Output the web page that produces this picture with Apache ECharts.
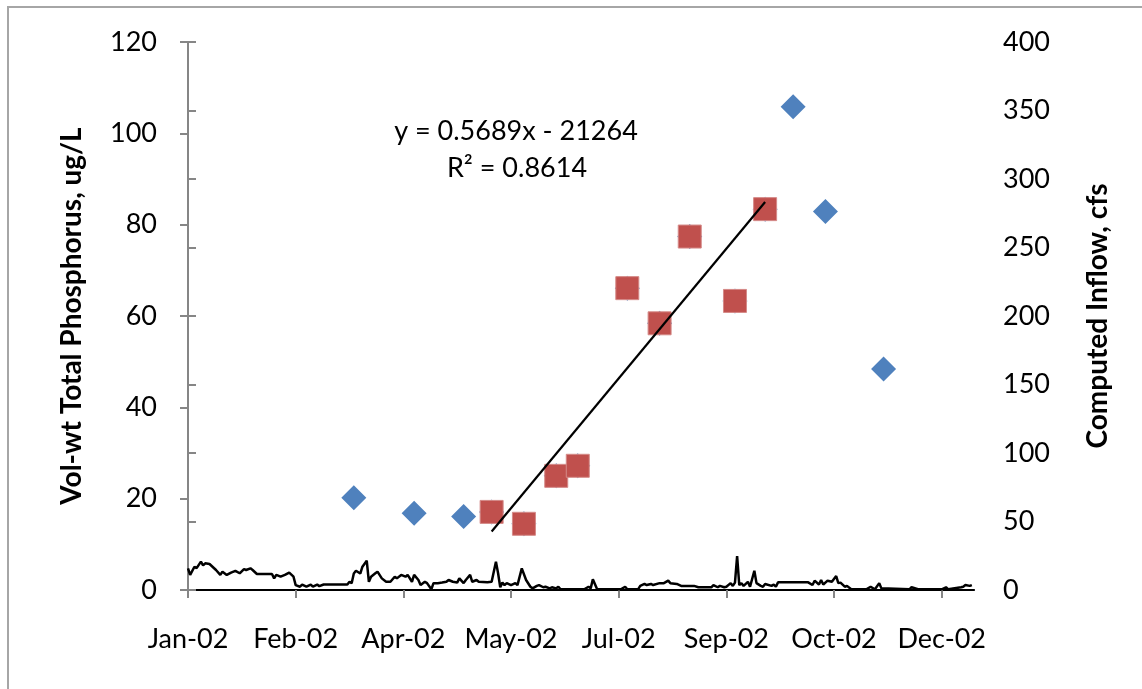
<!DOCTYPE html>
<html>
<head>
<meta charset="utf-8">
<script src="https://cdn.jsdelivr.net/npm/echarts@6/dist/echarts.min.js"></script>
<style>
  html, body { margin: 0; padding: 0; background: #ffffff; }
  #chart { width: 1142px; height: 689px; }
</style>
</head>
<body>
<div id="chart"></div>
<script>
// TP samples (vol-weighted, ug/L) - all sampling dates
const sampleDates = ['2002-03-19', '2002-04-16', '2002-05-09', '2002-05-22', '2002-06-06',
  '2002-06-21', '2002-07-01', '2002-07-24', '2002-08-08', '2002-08-22',
  '2002-09-12', '2002-09-26', '2002-10-09', '2002-10-24', '2002-11-20'];
const sampleTP = [20.2, 16.8, 16.1, 17.1, 14.5, 25.0, 27.2, 66.1, 58.4, 77.4, 63.3, 83.4, 105.8, 82.9, 48.4];

// samples used for the linear fit (red squares)
const fitDates = ['2002-05-22', '2002-06-06', '2002-06-21', '2002-07-01', '2002-07-24',
  '2002-08-08', '2002-08-22', '2002-09-12', '2002-09-26'];
const fitTP = [17.1, 14.5, 25.0, 27.2, 66.1, 58.4, 77.4, 63.3, 83.4];

// trendline label as printed on the chart
const trendText = ['y = 0.5689x - 21264', 'R\u00b2 = 0.8614'];

// computed inflow, cfs (day of year 2002, 0 = 1 Jan)
const inflowDay = [0, 1, 3, 4, 6, 7, 8, 10, 13, 15, 16, 18, 20, 22, 24, 26, 27, 29, 30, 32,
  39, 40, 41, 43, 45, 47, 49, 50, 52, 53, 55, 57, 58, 60, 61, 63, 74, 75, 76, 77,
  78, 80, 81, 83, 84, 85, 87, 88, 90, 92, 94, 96, 97, 99, 101, 102, 104, 105, 107, 108,
  110, 111, 113, 114, 116, 118, 120, 121, 123, 125, 126, 128, 129, 131, 132, 134, 135, 139, 141, 143,
  144, 145, 146, 147, 148, 150, 152, 153, 155, 157, 159, 160, 162, 163, 165, 166, 168, 169, 171, 172,
  173, 182, 184, 186, 187, 188, 190, 201, 203, 204, 209, 210, 212, 213, 215, 216, 219, 221, 223, 224,
  227, 229, 235, 237, 243, 244, 246, 247, 249, 250, 252, 253, 254, 255, 256, 257, 258, 260, 261, 263,
  264, 266, 267, 268, 271, 272, 273, 274, 288, 290, 291, 293, 294, 295, 297, 299, 301, 302, 303, 305,
  306, 308, 315, 317, 319, 321, 322, 335, 336, 339, 350, 352, 353, 359, 360, 361, 363, 364];
const inflowCfs = [15.8, 11, 17, 16, 20.7, 18, 19.5, 19, 14.6, 11, 13.4, 11, 12.7, 14, 12.2, 15.3, 14.6, 15.8, 14.6, 11.7,
  11.7, 8.5, 11, 9.7, 11, 12.7, 9.7, 3.6, 2.4, 4, 2.4, 4, 2.4, 4, 2.8, 4, 4, 6, 5, 12,
  14, 12, 17, 21.4, 6, 9.7, 12.2, 13.4, 8.5, 6, 6, 9.7, 8.5, 11, 9.7, 11, 6, 11, 7.3, 3.6,
  6, 5, 0.5, 5, 5, 5.4, 6, 7.3, 6, 5.4, 8.5, 5, 7.3, 11, 6, 7.3, 6, 5.6, 6, 20.7,
  12.2, 2, 5.4, 3.6, 5, 3.6, 5, 3.6, 15.8, 7.3, 2.4, 1.2, 3, 3.6, 2, 2.4, 1.2, 2, 1.2, 2.4,
  0.5, 0.5, 0.5, 2.4, 1.2, 7.8, 0.5, 0.5, 2.4, 0.5, 0.5, 3, 4.4, 3.6, 4.4, 3.6, 5, 5, 6.8, 5,
  4.4, 3, 3, 2, 2, 3.6, 2, 3, 2, 2.4, 5, 3, 5.4, 24.8, 3.6, 5, 3, 6, 2.4, 14,
  5, 3, 2.4, 4.4, 3, 4, 2.4, 5.6, 5.6, 3.6, 6.8, 4, 7.3, 4, 6.8, 6, 10.2, 5, 5.4, 2.4,
  3, 0.5, 0.5, 2.4, 0.5, 5, 1.2, 0.5, 2, 0.5, 0.5, 2, 0.5, 2, 2.4, 3.6, 3, 3.6];

const MONTHS = ['Jan', 'Feb', 'Mar', 'Apr', 'May', 'Jun', 'Jul', 'Aug', 'Sep', 'Oct', 'Nov', 'Dec'];
const YEAR0 = Date.UTC(2002, 0, 1);

// date string -> day offset from 1 Jan 2002
function dayOf(s) {
  const p = s.split('-').map(Number);
  return (Date.UTC(p[0], p[1] - 1, p[2]) - YEAR0) / 86400000;
}

// least squares fit over the red points
const fx = fitDates.map(dayOf);
const mx = fx.reduce((a, b) => a + b, 0) / fx.length;
const my = fitTP.reduce((a, b) => a + b, 0) / fitTP.length;
let sxy = 0, sxx = 0;
fx.forEach((x, i) => { sxy += (x - mx) * (fitTP[i] - my); sxx += (x - mx) * (x - mx); });
const slope = sxy / sxx;
const x0 = Math.min(...fx), x1 = Math.max(...fx);
const trendData = [[x0, my + slope * (x0 - mx)], [x1, my + slope * (x1 - mx)]];

const FONT = 'Lato';
const AXIS_GRAY = '#868686';

const chart = echarts.init(document.getElementById('chart'));

chart.setOption({
  animation: false,
  textStyle: { fontFamily: FONT, color: '#000' },
  grid: { left: 188, right: 168, top: 42, bottom: 99, containLabel: false },
  graphic: [
    {
      type: 'rect',
      shape: { x: 8, y: 7, width: 1200, height: 800 },
      style: { fill: 'none', stroke: '#a6a6a6', lineWidth: 2 },
      silent: true
    },
    {
      type: 'text', x: 516, y: 131, z: 100,
      style: { text: trendText[0], font: '27px ' + FONT, fill: '#000', textAlign: 'center', textVerticalAlign: 'middle' }
    },
    {
      type: 'text', x: 517, y: 168, z: 100,
      style: { text: trendText[1], font: '27px ' + FONT, fill: '#000', textAlign: 'center', textVerticalAlign: 'middle' }
    }
  ],
  xAxis: [
    {
      type: 'value', min: 0, max: 365, interval: 50, position: 'bottom',
      axisLine: { lineStyle: { color: AXIS_GRAY, width: 2 } },
      axisTick: { inside: false, length: 8, lineStyle: { color: AXIS_GRAY, width: 2 } },
      axisLabel: {
        fontSize: 27, color: '#000', margin: 36, showMaxLabel: false,
        formatter: v => {
          if (v > 360) return '';
          const d = new Date(YEAR0 + v * 86400000);
          return MONTHS[d.getUTCMonth()] + '-02';
        }
      },
      splitLine: { show: false }
    },
    {
      // top border line
      type: 'value', min: 0, max: 365, position: 'top',
      axisLine: { lineStyle: { color: '#000', width: 2 } },
      axisTick: { show: false }, axisLabel: { show: false }, splitLine: { show: false }
    }
  ],
  yAxis: [
    {
      type: 'value', min: 0, max: 120, interval: 20, position: 'left',
      name: 'Vol-wt Total Phosphorus, ug/L', nameLocation: 'middle', nameRotate: 90, nameGap: 102,
      nameTextStyle: { fontSize: 28, fontWeight: 'bold', color: '#000' },
      axisLine: { show: true, lineStyle: { color: AXIS_GRAY, width: 2 } },
      axisTick: { show: true, length: 8, lineStyle: { color: AXIS_GRAY, width: 2 } },
      axisLabel: { fontSize: 27, color: '#000', margin: 31 },
      splitLine: { show: false }
    },
    {
      type: 'value', min: 0, max: 400, interval: 50, position: 'right',
      name: 'Computed Inflow, cfs', nameLocation: 'middle', nameRotate: 90, nameGap: 110,
      nameTextStyle: { fontSize: 28, fontWeight: 'bold', color: '#000' },
      axisLine: { show: true, lineStyle: { color: AXIS_GRAY, width: 2 } },
      axisTick: { show: true, length: 8, lineStyle: { color: AXIS_GRAY, width: 2 } },
      axisLabel: { fontSize: 27, color: '#000', margin: 29 },
      splitLine: { show: false }
    }
  ],
  series: [
    {
      name: 'Inflow', type: 'line', xAxisIndex: 0, yAxisIndex: 1, z: 1,
      data: inflowDay.map((d, i) => [d, inflowCfs[i]]),
      showSymbol: false, lineStyle: { color: '#000', width: 2.5 }
    },
    {
      name: 'TP all', type: 'scatter', xAxisIndex: 0, yAxisIndex: 0, z: 2,
      data: sampleDates.map((d, i) => [dayOf(d), sampleTP[i]]),
      symbol: 'diamond', symbolSize: 25,
      itemStyle: { color: '#4F81BD', opacity: 1 }
    },
    {
      name: 'TP fit', type: 'scatter', xAxisIndex: 0, yAxisIndex: 0, z: 3,
      data: fitDates.map((d, i) => [dayOf(d), fitTP[i]]),
      symbol: 'rect', symbolSize: 23,
      itemStyle: { color: '#C0504D', opacity: 1, borderColor: '#d58a88', borderWidth: 1 }
    },
    {
      name: 'Linear', type: 'line', xAxisIndex: 0, yAxisIndex: 0, z: 4,
      data: trendData, showSymbol: false,
      lineStyle: { color: '#000', width: 2.2 }
    }
  ]
});
</script>
</body>
</html>
